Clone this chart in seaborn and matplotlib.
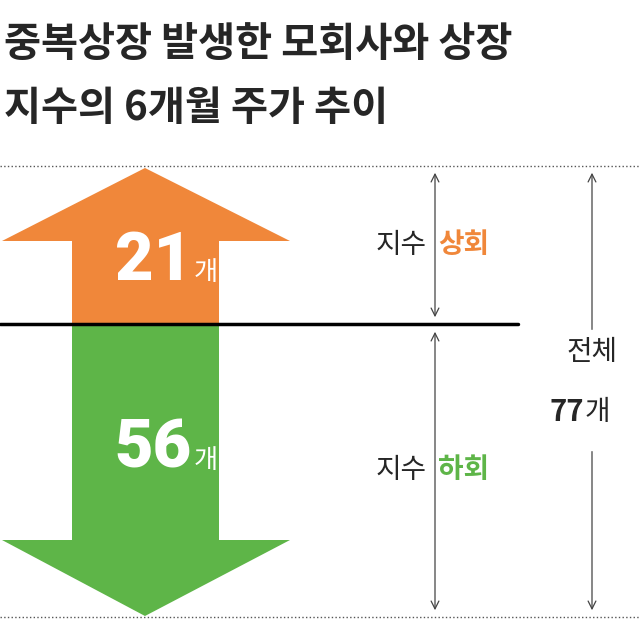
import matplotlib
matplotlib.use("Agg")
import matplotlib.pyplot as plt
from matplotlib.patches import Polygon
import seaborn as sns

sns.set_style('white')
plt.rcParams['font.family'] = ['Noto Sans CJK KR', 'DejaVu Sans']

title_lines = ["중복상장 발생한 모회사와 상장", "지수의 6개월 주가 추이"]
labels = ["상회", "하회"]
counts = [21, 56]
total = 77
colors = ["#F0873A", "#5EB548"]

fig = plt.figure(figsize=(6.4, 6.2), dpi=100)
ax = fig.add_axes([0, 0, 1, 1])
ax.set_xlim(0, 640)
ax.set_ylim(620, 0)
ax.axis('off')

for i, line in enumerate(title_lines):
    ax.text(4, 45 + i * 63, line, fontsize=29, fontweight='bold', va='center', ha='left')

top, mid, bot = 166, 324, 617
ax.plot([0, 640], [top, top], ls=':', color='#555555', lw=1)
ax.plot([0, 640], [bot, bot], ls=':', color='#555555', lw=1)

# up arrow
up = [(145, top + 2), (290, 241), (219, 241), (219, mid), (72, mid), (72, 241), (2, 241)]
ax.add_patch(Polygon(up, closed=True, color=colors[0], lw=0))
# down arrow
dn = [(72, mid), (219, mid), (219, 540), (290, 540), (145, bot - 1), (2, 540), (72, 540)]
ax.add_patch(Polygon(dn, closed=True, color=colors[1], lw=0))
ax.plot([0, 518], [mid, mid], color='black', lw=2.5)

for c, y in zip(counts, [262, 450]):
    ax.text(192, y, str(c), fontsize=48, fontweight='black', color='white', ha='right', va='center',
            family=['Roboto', 'DejaVu Sans'])
    ax.text(194, y + 10, "개", fontsize=19, color='white', ha='left', va='center')

for lab, col, y in zip(labels, colors, [245, 470]):
    ax.text(376, y, "지수", fontsize=20, ha='left', va='center')
    ax.text(438, y, lab, fontsize=20, fontweight='bold', color=col, ha='left', va='center')

def darrow(x, y0, y1):
    ax.annotate('', xy=(x, y0), xytext=(x, y1),
                arrowprops=dict(arrowstyle='<->', color='#444444', lw=0.9, mutation_scale=14))

darrow(435, 170, 320)
darrow(435, 329, 613)
darrow(592, 170, 613)
ax.add_patch(plt.Rectangle((550, 330), 85, 120, color='white', zorder=3))
ax.text(592, 352, "전체", fontsize=20, ha='center', va='center', zorder=4)
ax.text(584, 412, str(total), fontsize=21, fontweight='bold', ha='right', va='center', zorder=4)
ax.text(585, 412, "개", fontsize=20, ha='left', va='center', zorder=4)

fig.savefig("out.png", dpi=100)
